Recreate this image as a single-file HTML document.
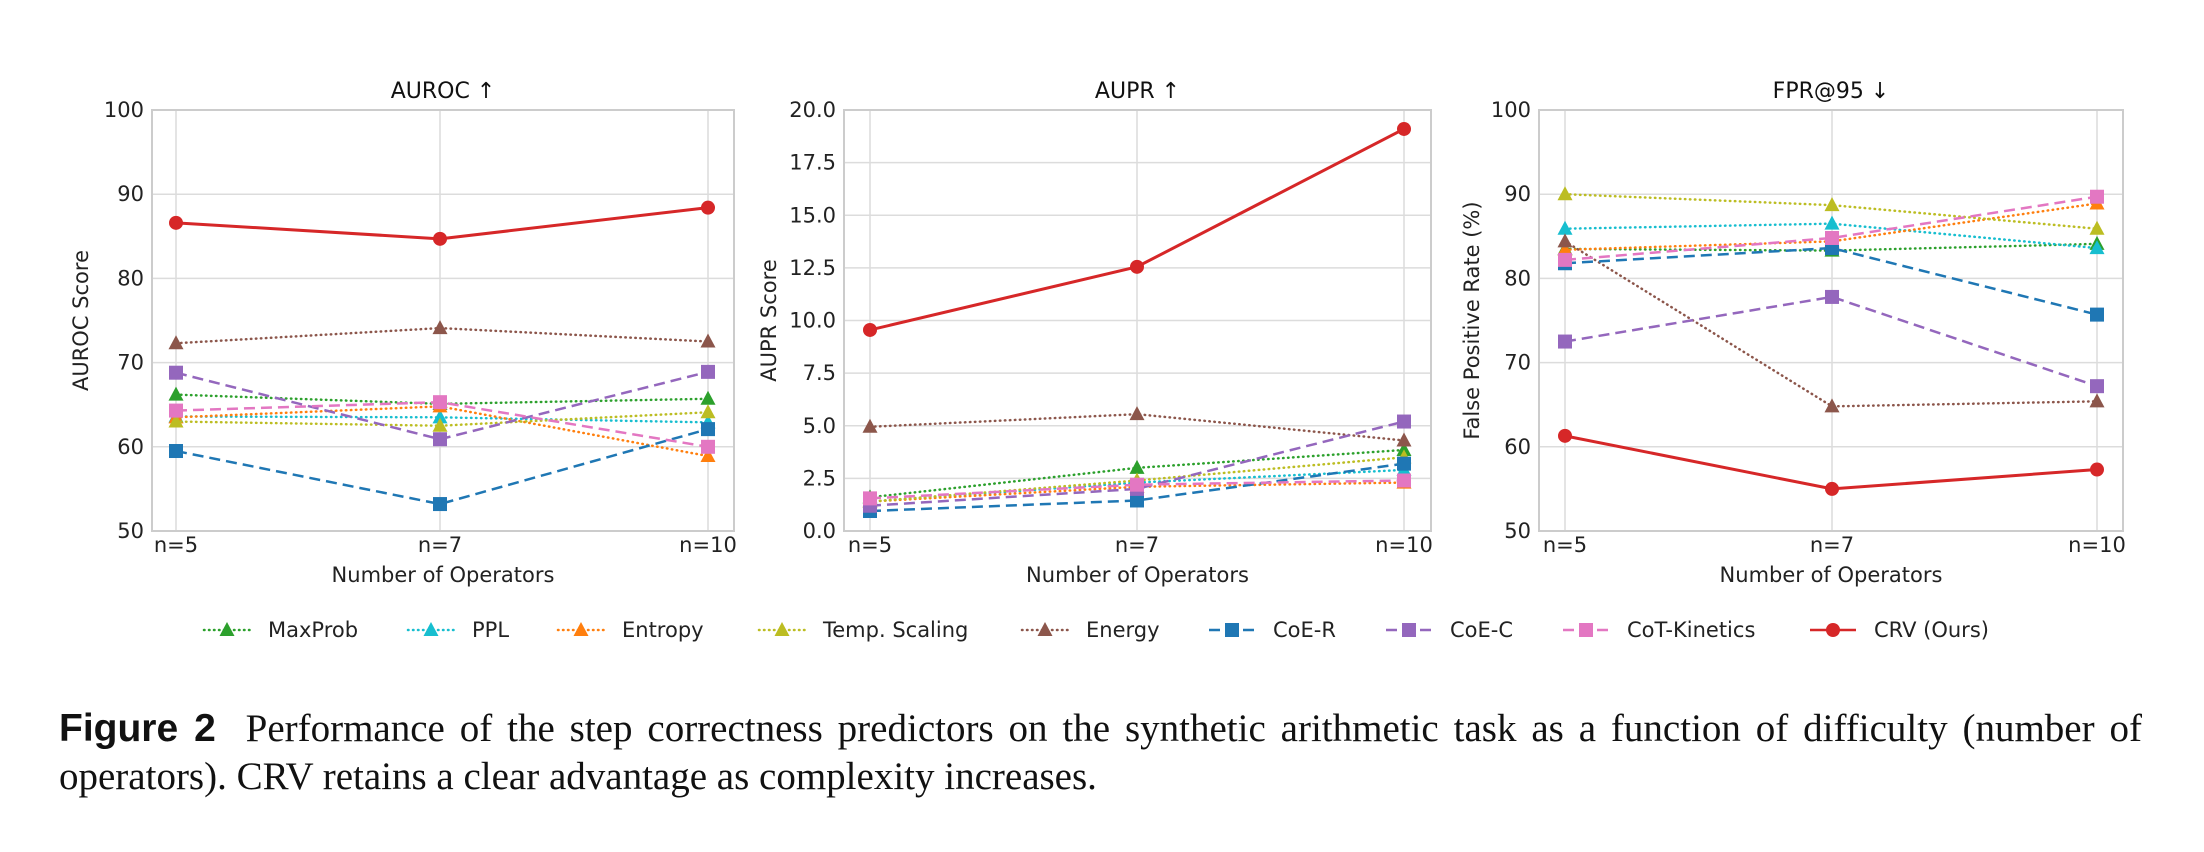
<!DOCTYPE html>
<html><head><meta charset="utf-8">
<style>
html,body{margin:0;padding:0;background:#fff;}
body{width:2204px;height:852px;overflow:hidden;position:relative;}
svg{position:absolute;left:0;top:0;}
.cap{position:absolute;left:59px;width:2083px;font-family:"Liberation Serif",serif;font-size:39px;color:#111;text-align:justify;text-align-last:justify;line-height:48px;white-space:nowrap;}
.cap b{font-family:"Liberation Sans",sans-serif;font-size:39px;}
</style></head><body>
<svg id="fig" width="2204" height="852" font-family="DejaVu Sans, Liberation Sans, sans-serif"></svg>
<div class="cap" style="top:705px;"><b>Figure 2</b>&nbsp; Performance of the step correctness predictors on the synthetic arithmetic task as a function of difficulty (number of</div>
<div class="cap" style="top:753px;text-align-last:left;">operators). CRV retains a clear advantage as complexity increases.</div>
<script>
const categories = ["n=5","n=7","n=10"];
const seriesNames = ["MaxProb","PPL","Entropy","Temp. Scaling","Energy","CoE-R","CoE-C","CoT-Kinetics","CRV (Ours)"];
const seriesColors = ["#2ca02c","#17becf","#ff7f0e","#bcbd22","#8c564b","#1f77b4","#9467bd","#e377c2","#d62728"];
const seriesStyles = ["dot","dot","dot","dot","dot","dash","dash","dash","solid"];
const seriesMarkers = ["tri","tri","tri","tri","tri","sq","sq","sq","circ"];
const aurocValues = [[66.2,65.1,65.7],[63.6,63.5,62.9],[63.5,64.8,58.9],[63.0,62.5,64.1],[72.3,74.1,72.5],[59.5,53.2,62.1],[68.8,60.9,68.9],[64.3,65.3,60.0],[86.6,84.7,88.4]];
const auprValues = [[1.6,3.0,3.85],[1.4,2.3,2.9],[1.4,2.1,2.3],[1.4,2.4,3.5],[4.95,5.55,4.3],[0.95,1.45,3.2],[1.2,2.0,5.2],[1.55,2.2,2.4],[9.55,12.55,19.1]];
const fprValues = [[83.5,83.3,84.1],[85.9,86.5,83.6],[83.4,84.4,88.9],[90.0,88.7,85.9],[84.4,64.8,65.4],[81.8,83.6,75.7],[72.5,77.8,67.2],[82.2,84.8,89.7],[61.3,55.0,57.3]];
const aurocTicks = [50,60,70,80,90,100];
const auprTicks = [0,2.5,5,7.5,10,12.5,15,17.5,20];
const fprTicks = [50,60,70,80,90,100];

const NS="http://www.w3.org/2000/svg";
const svg=document.getElementById('fig');
function mk(tag,attrs,parent){const e=document.createElementNS(NS,tag);for(const k in attrs)e.setAttribute(k,attrs[k]);(parent||svg).appendChild(e);return e;}

const panels=[
 {key:"auroc",title:"AUROC ↑",ylabel:"AUROC Score",vals:aurocValues,ticks:aurocTicks,fmt:v=>String(v),L:152,R:734,cx:[176,440,708],ylx:81},
 {key:"aupr",title:"AUPR ↑",ylabel:"AUPR Score",vals:auprValues,ticks:auprTicks,fmt:v=>v.toFixed(1),L:844,R:1431,cx:[870,1137,1404],ylx:769},
 {key:"fpr",title:"FPR@95 ↓",ylabel:"False Positive Rate (%)",vals:fprValues,ticks:fprTicks,fmt:v=>String(v),L:1539,R:2123,cx:[1565,1832,2097],ylx:1472}
];
const T=110,B=531;
function dash(style){return style==="dot"?"0.5,4.5":style==="dash"?"11,6":"none";}
function marker(g,type,x,y,color){
  let m;
  if(type==="tri") m=mk('polygon',{points:`${x},${y-8} ${x-7.5},${y+6} ${x+7.5},${y+6}`,fill:color},g);
  else if(type==="sq") m=mk('rect',{x:x-7,y:y-7,width:14,height:14,fill:color},g);
  else m=mk('circle',{cx:x,cy:y,r:7,fill:color},g);
  return m;
}
panels.forEach(p=>{
  const g=mk('g',{});
  
  
  const y0=p.ticks[0],y1=p.ticks[p.ticks.length-1];
  const ys=v=>B-(v-y0)/(y1-y0)*(B-T);
  const xs=i=>p.cx[i];
  p.ticks.forEach(t=>{
    const l=mk('line',{x1:p.L,x2:p.R,y1:ys(t),y2:ys(t),stroke:"#dcdcdc","stroke-width":1.5},g);
    
    
    const tx=mk('text',{x:p.L-8,y:ys(t)+7,"text-anchor":"end","font-size":21,fill:"#222"},g);
    tx.textContent=p.fmt(t);
    
    
  });
  categories.forEach((c,i)=>{
    const l=mk('line',{x1:xs(i),x2:xs(i),y1:T,y2:B,stroke:"#dcdcdc","stroke-width":1.5},g);
    
    
    const tx=mk('text',{x:xs(i),y:552,"text-anchor":"middle","font-size":21,fill:"#222"},g);
    tx.textContent=c;
    
    
  });
  const fr=mk('rect',{x:p.L,y:T,width:p.R-p.L,height:B-T,fill:"none",stroke:"#cccccc","stroke-width":2},g);
  
  
  const tt=mk('text',{x:(p.L+p.R)/2,y:98,"text-anchor":"middle","font-size":22,fill:"#111"},g);
  tt.textContent=p.title;
  
  
  const xl=mk('text',{x:(p.L+p.R)/2,y:582,"text-anchor":"middle","font-size":21,fill:"#222"},g);
  xl.textContent="Number of Operators";
  
  
  const yl=mk('text',{x:p.ylx+7,y:(T+B)/2,"text-anchor":"middle","font-size":21,fill:"#222",transform:`rotate(-90 ${p.ylx+7} ${(T+B)/2})`},g);
  yl.textContent=p.ylabel;
  
  
  p.vals.forEach((vals,s)=>{
    const sg=mk('g',{},g);
    
    
    const pts=vals.map((v,i)=>xs(i)+","+ys(v)).join(" ");
    const pl=mk('polyline',{points:pts,fill:"none",stroke:seriesColors[s],"stroke-width":s===8?3:2.5,"stroke-dasharray":dash(seriesStyles[s]),"stroke-linecap":seriesStyles[s]==="dot"?"round":"butt"},sg);
    
    
    vals.forEach((v,i)=>{
      const m=marker(sg,seriesMarkers[s],xs(i),ys(v),seriesColors[s]);
      
      
    });
  });
});
const legX=[204,408,558,759,1022,1209,1386,1563,1810];
const lg=mk('g',{});


seriesNames.forEach((n,s)=>{
  const eg=mk('g',{},lg);
  
  
  const x=legX[s],y=630;
  mk('line',{x1:x,x2:x+46,y1:y,y2:y,stroke:seriesColors[s],"stroke-width":2.5,"stroke-dasharray":dash(seriesStyles[s]),"stroke-linecap":seriesStyles[s]==="dot"?"round":"butt"},eg);
  marker(eg,seriesMarkers[s],x+23,y,seriesColors[s]);
  const t=mk('text',{x:x+64,y:y+7,"font-size":21,fill:"#222"},eg);
  t.textContent=n;
});
</script>
</body></html>
